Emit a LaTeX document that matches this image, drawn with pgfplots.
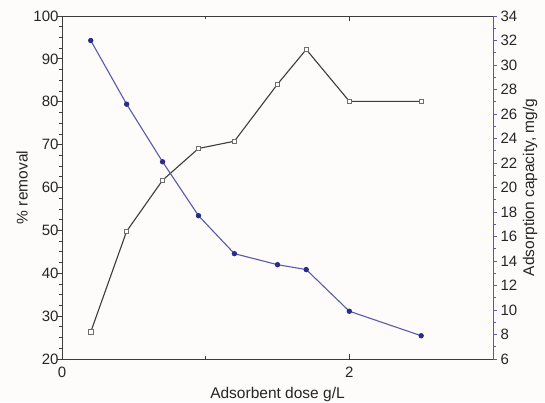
\documentclass[border=0pt]{standalone}
\usepackage{pgfplots}
\pgfplotsset{compat=1.18}
\usepackage{fontspec}
\setmainfont{Liberation Sans}
\definecolor{bl}{HTML}{5A5AAA}
\definecolor{bm}{HTML}{2C2C88}
\definecolor{gl}{HTML}{3C3C3C}
\definecolor{gm}{HTML}{6E6E6E}
\definecolor{bg}{HTML}{FDFCFA}
\begin{document}
\begin{tikzpicture}[x=1pt,y=1pt]
\fill[bg] (-62,-43) rectangle (483,359);
\path[use as bounding box] (-62,-43) rectangle (483,359);
\begin{axis}[at={(0,0)}, anchor=south west, scale only axis,
  width=431pt, height=343pt,
  xmin=0, xmax=3, ymin=20, ymax=100,
  xtick={0,2}, minor xtick={1}, xtick pos=both, ytick pos=left,
  ytick={20,30,...,100}, minor y tick num=3,
  tick align=inside, major tick length=5pt, minor tick length=3pt,
  major y tick style={xshift=-5pt}, minor y tick style={xshift=-3pt},
  axis line style={gl, line width=1pt}, tick style={gl, line width=0.8pt},
  /pgf/number format/assume math mode=true,
  tick label style={font=\fontsize{15}{18}\selectfont, text=black!85},
  xticklabel style={yshift=-4pt},
  xlabel={Adsorbent dose g/L}, ylabel={\% removal},
  every axis x label/.style={at={(axis description cs:0.5,0)}, yshift=-35pt, anchor=center, font=\fontsize{15.5}{18}\selectfont, text=black!85},
  every axis y label/.style={at={(axis description cs:0,0.5)}, xshift=-40pt, anchor=center, rotate=90, font=\fontsize{15.5}{18}\selectfont, text=black!85},
]
\addplot[gl, line width=1.1pt, mark=square*, mark size=2.2pt,
  mark options={fill=white, draw=gm, line width=0.8pt}] coordinates {
  (0.2,26.3) (0.45,49.8) (0.7,61.7) (0.95,69.1) (1.2,70.8)
  (1.5,84.1) (1.7,92.2) (2.0,80.1) (2.5,80.1)};
\end{axis}
\begin{axis}[at={(0,0)}, anchor=south west, scale only axis,
  width=431pt, height=343pt,
  xmin=0, xmax=3, ymin=6, ymax=34,
  axis x line=none, axis y line*=right,
  ytick={6,8,...,34}, minor y tick num=1,
  tick align=outside, major tick length=4pt, minor tick length=2.5pt,
  axis line style={bl, line width=1pt}, tick style={bl, line width=0.8pt},
  /pgf/number format/assume math mode=true,
  tick label style={font=\fontsize{15}{18}\selectfont, text=black!85},
  ylabel={Adsorption capacity, mg/g},
  every axis y label/.style={at={(axis description cs:1,0.5)}, xshift=37pt, anchor=center, rotate=90, font=\fontsize{15.5}{18}\selectfont, text=black!85},
]
\addplot[bl, line width=1.1pt, mark=*, mark size=2.1pt,
  mark options={fill=bm, draw=bm}] coordinates {
  (0.2,32.0) (0.45,26.8) (0.7,22.1) (0.95,17.7) (1.2,14.6)
  (1.5,13.7) (1.7,13.3) (2.0,9.9) (2.5,7.9)};
\end{axis}
\end{tikzpicture}
\end{document}
